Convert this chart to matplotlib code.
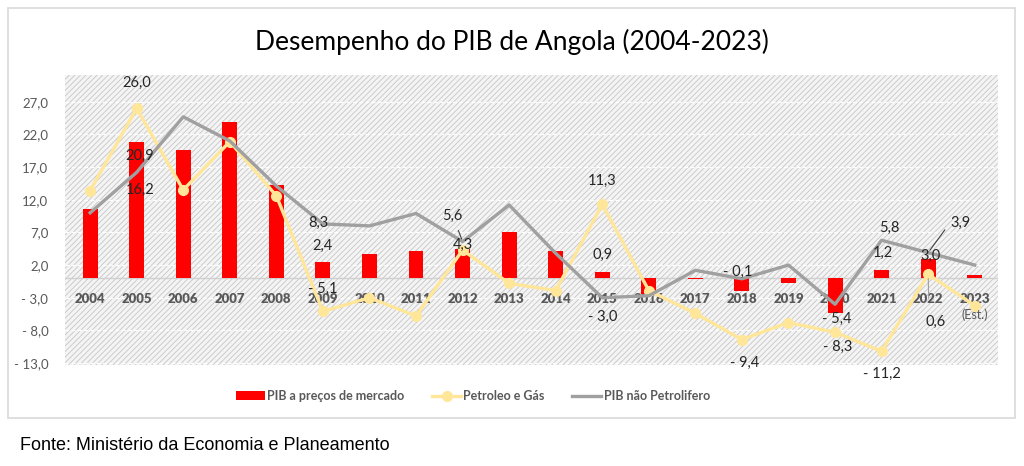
import matplotlib.pyplot as plt
import numpy as np
from matplotlib.patches import Rectangle
from matplotlib.ticker import FuncFormatter

# dados (taxa de crescimento, %)
anos = ['2004', '2005', '2006', '2007', '2008', '2009', '2010', '2011', '2012', '2013',
        '2014', '2015', '2016', '2017', '2018', '2019', '2020', '2021', '2022', '2023']
pib_mercado = [10.6, 20.9, 19.6, 23.9, 14.2, 2.4, 3.7, 4.1, 4.5, 7.1,
               4.1, 0.9, -2.4, -0.2, -2.0, -0.7, -5.4, 1.2, 3.0, 0.5]
petroleo_gas = [13.4, 26.0, 13.5, 20.9, 12.6, -5.1, -3.0, -5.8, 4.3, -0.8,
                -1.9, 11.3, -1.9, -5.4, -9.4, -6.8, -8.3, -11.2, 0.6, -4.2]
nao_petrolifero = [10.0, 16.2, 24.7, 21.0, 14.1, 8.3, 8.0, 9.9, 5.6, 11.2,
                   3.8, -3.0, -2.7, 1.2, -0.1, 2.0, -4.0, 5.8, 3.9, 2.0]
yticks = [-13, -8, -3, 2, 7, 12, 17, 22, 27]


def fmt(v):
    s = '%.1f' % abs(v)
    s = s.replace('.', ',')
    if v < 0:
        return '- ' + s
    return s


plt.rcParams['font.family'] = ['Lato', 'DejaVu Sans']
plt.rcParams['hatch.linewidth'] = 0.6
plt.rcParams['hatch.color'] = '#c6c6c6'

fig = plt.figure(figsize=(10.24, 4.66), dpi=100)
ax = fig.add_axes([65/1024, 1-365/466, 933/1024, 290/466])

x = np.arange(len(anos))

# fundo tracejado
ax.add_patch(Rectangle((0, 0), 1, 1, transform=ax.transAxes, facecolor='#f4f4f4',
                       edgecolor='#c6c6c6', hatch='//////', lw=0, zorder=0))
for t in yticks:
    ax.axhline(t, color='white', lw=0.9, ls=(0, (3, 2)), zorder=0.5)
ax.axhline(0, color='#d0d0d0', lw=1, zorder=1)

b = ax.bar(x, pib_mercado, width=0.32, color='#ff0000', zorder=2)
l1, = ax.plot(x, petroleo_gas, color='#ffe699', lw=2.4, marker='o', ms=7, mfc='#ffe699',
              mec='#ffe699', zorder=3)
l2, = ax.plot(x, nao_petrolifero, color='#a0a0a0', lw=2.4, zorder=4)

ax.set_xlim(-0.54, 19.5)
ax.set_ylim(-13.3, 31.1)
ax.set_yticks(yticks)
ax.yaxis.set_major_formatter(FuncFormatter(lambda v, p: fmt(v)))
ax.set_xticks(x)
ax.set_xticklabels(anos)
for s in ax.spines.values():
    s.set_visible(False)
ax.spines['bottom'].set_position(('data', 0))
ax.tick_params(axis='both', length=0, colors='#595959', labelsize=9.5)
ax.tick_params(axis='x', pad=11)
ax.tick_params(axis='y', pad=12)
for t in ax.get_xticklabels():
    t.set_fontweight('heavy')

ax.annotate('(Est.)', (x[19], 0), xytext=(0, -37), textcoords='offset pixels',
            ha='center', va='center', fontsize=9, color='#595959')

# rótulos de dados: (serie, indice, dx, dy) em pixels
lbl = dict(fontsize=10.5, color='#262626', ha='center', va='center', textcoords='offset pixels',
           annotation_clip=False, zorder=6)
rotulos = [
    (petroleo_gas, 1, 0, 25), (pib_mercado, 1, 3, -14), (nao_petrolifero, 1, 3, -18),
    (nao_petrolifero, 5, -5, 1), (pib_mercado, 5, 0, 17), (petroleo_gas, 5, 0, 23),
    (petroleo_gas, 8, 0, 5),
    (petroleo_gas, 11, 0, 23), (pib_mercado, 11, 0, 17), (nao_petrolifero, 11, 0, -19),
    (nao_petrolifero, 14, -4, 7), (pib_mercado, 16, 2, -5), (petroleo_gas, 16, 3, -15),
    (petroleo_gas, 14, 3, -23), (petroleo_gas, 17, 0, -23), (nao_petrolifero, 17, 8, 12),
    (pib_mercado, 17, 1, 17), (pib_mercado, 18, 2, 3),
]
for serie, i, dx, dy in rotulos:
    ax.annotate(fmt(serie[i]), (x[i], serie[i]), xytext=(dx, dy), **lbl)

# rótulos com linha de chamada
ax.annotate(fmt(nao_petrolifero[8]), (x[8], nao_petrolifero[8]), xytext=(-10, 26),
            arrowprops=dict(arrowstyle='-', color='#404040', lw=0.8, shrinkA=4, shrinkB=2), **lbl)
ax.annotate(fmt(nao_petrolifero[18]), (x[18], nao_petrolifero[18]), xytext=(32, 30),
            arrowprops=dict(arrowstyle='-', color='#404040', lw=0.8, shrinkA=3, shrinkB=2,
                            relpos=(0, 0.5)), **lbl)
ax.annotate(fmt(petroleo_gas[18]), (x[18], petroleo_gas[18]), xytext=(7, -48),
            arrowprops=dict(arrowstyle='-', color='#a0a0a0', lw=0.8, shrinkA=10, shrinkB=3,
                            relpos=(0.2, 1)), **lbl)

leg = ax.legend([b, l1, l2], ['PIB a preços de mercado', 'Petroleo e Gás', 'PIB não Petrolifero'],
                loc='center', bbox_to_anchor=(473/1024, 1-396/466), bbox_transform=fig.transFigure,
                ncol=3, frameon=False, handlelength=2.3, columnspacing=2.2, handletextpad=0.2,
                prop={'weight': 'bold', 'size': 9})
for t in leg.get_texts():
    t.set_color('#595959')

fig.text(0.5, 1-42/466, 'Desempenho do PIB de Angola (2004-2023)', ha='center', va='center',
         fontsize=19, color='#000000')
fig.patches.append(Rectangle((8/1024, 1-418/466), 1007/1024, 410/466, transform=fig.transFigure,
                             fill=False, edgecolor='#d9d9d9', lw=1.2))
fig.text(20/1024, 1-445/466, 'Fonte: Ministério da Economia e Planeamento', ha='left', va='center',
         fontsize=13, family='Liberation Sans', color='#000000')

fig.savefig('out.png', dpi=100)
